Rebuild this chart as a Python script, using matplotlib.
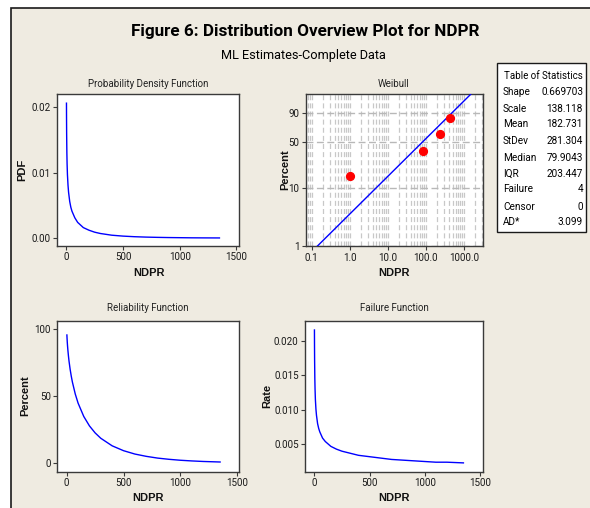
import numpy as np
import matplotlib
matplotlib.use("Agg")
import matplotlib.pyplot as plt
from matplotlib.patches import Rectangle
from matplotlib.ticker import FixedLocator, NullFormatter, LogLocator

# ---------------- data ----------------
ndpr = [1.5, 2, 3, 5, 7, 10, 15, 20, 30, 40, 50, 75, 100, 150, 200, 250, 300,
        400, 500, 600, 700, 800, 900, 1000, 1100, 1200, 1350]
pdf_vals = [0.0206, 0.0185, 0.0159, 0.0130, 0.0113, 0.0097, 0.0081, 0.0070,
            0.0056, 0.0047, 0.0041, 0.0031, 0.0024, 0.0016, 0.0012, 0.0009,
            0.0007, 0.00044, 0.0003, 0.00021, 0.00015, 0.00011, 0.00008,
            0.00006, 0.00004, 0.00003, 0.00002]
reliability_pct = [95.3, 94.3, 92.6, 89.7, 87.3, 84.2, 79.8, 76.0, 69.8, 64.7,
                   60.3, 51.5, 44.7, 34.8, 27.8, 22.6, 18.6, 13.0, 9.4, 6.9,
                   5.2, 3.9, 3.0, 2.3, 1.8, 1.4, 1.0]
failure_rate = [0.0216, 0.0196, 0.0172, 0.0145, 0.0130, 0.0115, 0.0101, 0.0092,
                0.0080, 0.0073, 0.0068, 0.0059, 0.0054, 0.0047, 0.0043, 0.0040,
                0.0038, 0.0034, 0.0032, 0.0030, 0.0028, 0.0027, 0.0026, 0.0025,
                0.0024, 0.0024, 0.0023]

weib_x = [1.0, 85, 240, 420]
weib_pct = [15.9, 38.6, 61.4, 84.1]
fit_x = [0.14, 1500]
fit_pct = [1.0, 99.2]

stat_names = ["Shape", "Scale", "Mean", "StDev", "Median", "IQR", "Failure",
              "Censor", "AD*"]
stat_values = ["0.669703", "138.118", "182.731", "281.304", "79.9043",
               "203.447", "4", "0", "3.099"]

lin_xticks = [0, 500, 1000, 1500]
weib_xticks = [0.1, 1, 10, 100, 1000]
weib_xticklabels = ["0.1", "1.0", "10.0", "100.0", "1000.0"]
weib_yticks = [1, 10, 50, 90]

# ---------------- style ----------------
W, H = 590, 508
NARROW = ["Roboto", "DejaVu Sans"]
BOLD = ["Liberation Sans", "DejaVu Sans"]
BG = "#EFEBE1"
SPINE = "#3a3a3a"
BLUE = "#0000FF"
RED = "#FF0000"
TICK_FS = 7.1

fig = plt.figure(figsize=(W / 100, H / 100), dpi=100)
fig.patch.set_facecolor("white")

# beige panel with border (cut off at right/bottom)
fig.patches.append(Rectangle((11 / W, -0.05), 1.2, (H - 8) / H + 0.05,
                             transform=fig.transFigure, facecolor=BG,
                             edgecolor="#1a1a1a", linewidth=1.2, zorder=-10))


def px_axes(l, t, r, b):
    return fig.add_axes([l / W, 1 - b / H, (r - l) / W, (b - t) / H])


def style(ax):
    ax.set_facecolor("white")
    for s in ax.spines.values():
        s.set_color(SPINE)
        s.set_linewidth(1.0)
    ax.tick_params(axis="both", which="major", length=3, width=0.8,
                   color=SPINE, labelsize=TICK_FS, pad=1.5, top=False,
                   right=False, labelcolor="#1a1a1a")
    for lab in ax.get_xticklabels() + ax.get_yticklabels():
        lab.set_fontfamily(NARROW)


def ftext(x, y, s, **kw):
    fig.text(x / W, 1 - y / H, s, **kw)


# titles
ftext(305, 31.5, "Figure 6: Distribution Overview Plot for NDPR",
      family=NARROW, fontweight="bold", fontsize=12.3, ha="center",
      va="center")
ftext(303, 55.5, "ML Estimates-Complete Data", family=NARROW, fontsize=9.2,
      ha="center", va="center")

# ---- PDF ----
ax1 = px_axes(57, 94, 238.5, 246)
ax1.plot(ndpr, pdf_vals, color=BLUE, lw=1.0)
ax1.set_xlim(-82, 1518)
ax1.set_ylim(-0.00121, 0.0220)
ax1.set_xticks(lin_xticks)
ax1.set_yticks([0.0, 0.01, 0.02])
ax1.set_yticklabels(["0.00", "0.01", "0.02"])
style(ax1)


# ---- Weibull ----
def fwd(p):
    p = np.clip(np.asarray(p, dtype=float), 1e-6, 100 - 1e-6)
    return np.log(-np.log(1 - p / 100.0))


def inv(t):
    return 100.0 * (1 - np.exp(-np.exp(np.asarray(t, dtype=float))))


ax2 = px_axes(305.7, 94.3, 482.7, 246.3)
ax2.set_xscale("log")
ax2.set_yscale("function", functions=(fwd, inv))
ax2.set_xlim(0.07, 3100)
ax2.set_ylim(1, 99.2)
ax2.xaxis.set_major_locator(FixedLocator(weib_xticks))
ax2.xaxis.set_minor_locator(LogLocator(base=10, subs=np.arange(2, 10)))
ax2.xaxis.set_minor_formatter(NullFormatter())
ax2.set_xticks(weib_xticks)
ax2.set_xticklabels(weib_xticklabels)
ax2.yaxis.set_major_locator(FixedLocator(weib_yticks))
ax2.yaxis.set_minor_locator(FixedLocator([]))
ax2.set_yticklabels([str(v) for v in weib_yticks])
ax2.tick_params(axis="x", which="minor", length=0)
ax2.grid(True, axis="x", which="both", color="#c8c8c8", lw=0.9,
         linestyle=(0, (4, 2.5)))
ax2.grid(True, axis="y", which="major", color="#b8b8b8", lw=1.0,
         linestyle=(0, (5, 2.5)))
ax2.set_axisbelow(True)
ax2.plot(fit_x, fit_pct, color=BLUE, lw=1.0, zorder=3, clip_on=True)
ax2.plot(weib_x, weib_pct, "o", color=RED, ms=5.6, mec=RED, zorder=4)
style(ax2)

# ---- Reliability ----
ax3 = px_axes(57.3, 320.7, 239.3, 471.7)
ax3.plot(ndpr, reliability_pct, color=BLUE, lw=1.0)
ax3.set_xlim(-83, 1519)
ax3.set_ylim(-6.2, 105.9)
ax3.set_xticks(lin_xticks)
ax3.set_yticks([0, 50, 100])
style(ax3)

# ---- Failure ----
ax4 = px_axes(305, 320.7, 483.3, 471.7)
ax4.plot(ndpr, failure_rate, color=BLUE, lw=1.0)
ax4.set_xlim(-84, 1530)
ax4.set_ylim(0.00102, 0.02295)
ax4.set_xticks(lin_xticks)
ax4.set_yticks([0.005, 0.010, 0.015, 0.020])
ax4.set_yticklabels(["0.005", "0.010", "0.015", "0.020"])
style(ax4)

# subplot titles
for x, y, s in [(148, 84, "Probability Density Function"), (394, 84, "Weibull"),
                (148, 308, "Reliability Function"), (394, 308, "Failure Function")]:
    ftext(x, y, s, family=NARROW, fontsize=7, ha="center", va="center",
          color="#222222")

# axis labels
lab_kw = dict(family=BOLD, fontweight="bold", fontsize=8, ha="center",
              va="center", color="#111111")
ftext(149, 273, "NDPR", **lab_kw)
ftext(394, 273, "NDPR", **lab_kw)
ftext(148, 498, "NDPR", **lab_kw)
ftext(394, 498, "NDPR", **lab_kw)
ftext(22, 170, "PDF", rotation=90, **lab_kw)
ftext(285, 170, "Percent", rotation=90, **lab_kw)
ftext(25, 396, "Percent", rotation=90, **lab_kw)
ftext(267, 396, "Rate", rotation=90, **lab_kw)

# table of statistics
fig.patches.append(Rectangle((497 / W, 1 - 232 / H), (586 - 497) / W,
                             (232 - 63) / H, transform=fig.transFigure,
                             facecolor="white", edgecolor="#1a1a1a",
                             linewidth=1.0, zorder=5))
ftext(543, 75.7, "Table of Statistics", family=NARROW, fontsize=7,
      ha="center", va="center", zorder=6)
row_y = [92, 108.5, 124.3, 140.7, 157.7, 174, 188.7, 206.7, 221.7]
for yy, n, v in zip(row_y, stat_names, stat_values):
    ftext(503, yy, n, family=NARROW, fontsize=7.2, ha="left", va="center",
          zorder=6)
    ftext(583, yy, v, family=NARROW, fontsize=7.2, ha="right", va="center",
          zorder=6)

fig.savefig("out.png", dpi=100, facecolor=fig.get_facecolor())
